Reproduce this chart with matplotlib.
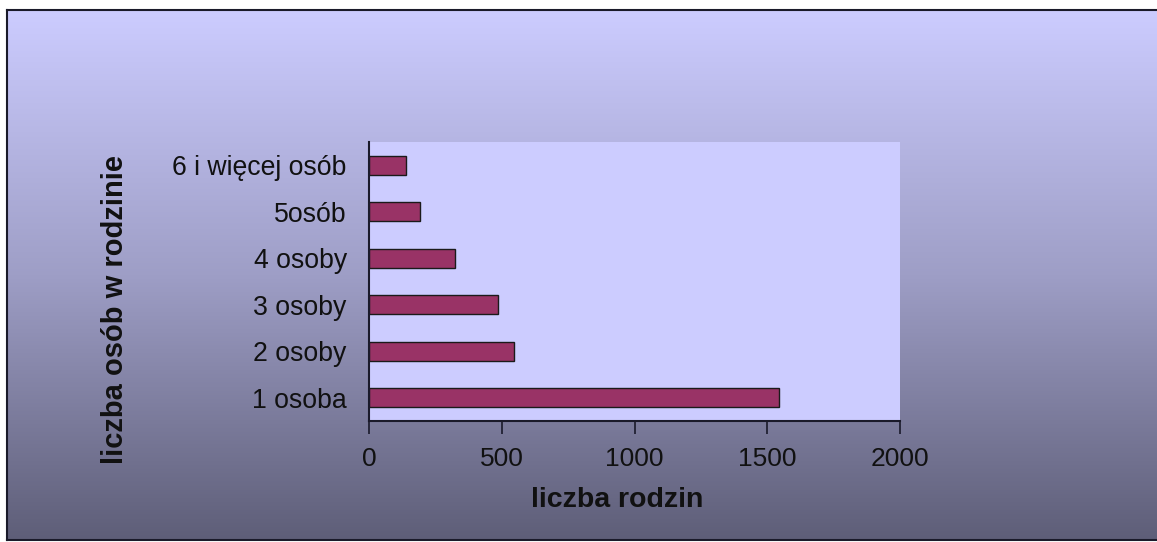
import matplotlib.pyplot as plt
import numpy as np
from matplotlib.colors import LinearSegmentedColormap

categories = ['1 osoba', '2 osoby', '3 osoby', '4 osoby', '5osób', '6 i więcej osób']
families = [1546, 547, 486, 324, 193, 139]
x_ticks = [0, 500, 1000, 1500, 2000]

plt.rcParams['font.family'] = ['Liberation Sans', 'DejaVu Sans']

W, H = 1157, 542
fig = plt.figure(figsize=(W / 100, H / 100), dpi=100)
fig.patch.set_facecolor('white')

# gradient background of the chart area
bg = fig.add_axes([7 / W, 2 / H, 1 - 7 / W, (H - 12) / H])
grad = LinearSegmentedColormap.from_list('bg', ['#5e5e78', '#9e9ec6', '#ccccff'])
bg.imshow(np.linspace(0, 1, 256).reshape(-1, 1), aspect='auto', cmap=grad,
          origin='lower', extent=[0, 1, 0, 1])
bg.set_xticks([])
bg.set_yticks([])
for side in ['left', 'top', 'bottom']:
    bg.spines[side].set_linewidth(1.5)
    bg.spines[side].set_color('#1a1a2a')
bg.spines['right'].set_visible(False)

ax = fig.add_axes([369 / W, 121 / H, (900 - 369) / W, (421 - 142) / H])
ax.set_facecolor('#ccccff')
y = np.arange(len(categories))
ax.barh(y, families, height=0.4, color='#993366', edgecolor='#1a1a1a', linewidth=1)
ax.set_xlim(0, 2000)
ax.set_ylim(-0.5, len(categories) - 0.5)
ax.set_yticks(y)
ax.set_yticklabels(categories, fontsize=19.2, color='#111111')
ax.set_xticks(x_ticks)
ax.set_xticklabels([str(v) for v in x_ticks], fontsize=19, color='#111111')
ax.tick_params(axis='y', length=0, pad=16)
ax.tick_params(axis='x', length=9, width=1.2, direction='out', pad=10, color='#1a1a2a')
for side in ['top', 'right']:
    ax.spines[side].set_visible(False)
for side in ['left', 'bottom']:
    ax.spines[side].set_linewidth(1.5)
    ax.spines[side].set_color('#1a1a2a')

fig.text(617 / W, 1 - 500 / H, 'liczba rodzin', fontsize=20.5, fontweight='bold',
         ha='center', va='center', color='#111111')
fig.text(115 / W, 1 - 310 / H, 'liczba osób w rodzinie', fontsize=21, fontweight='bold',
         ha='center', va='center', rotation=90, color='#111111')

fig.savefig('out.png', dpi=100)
